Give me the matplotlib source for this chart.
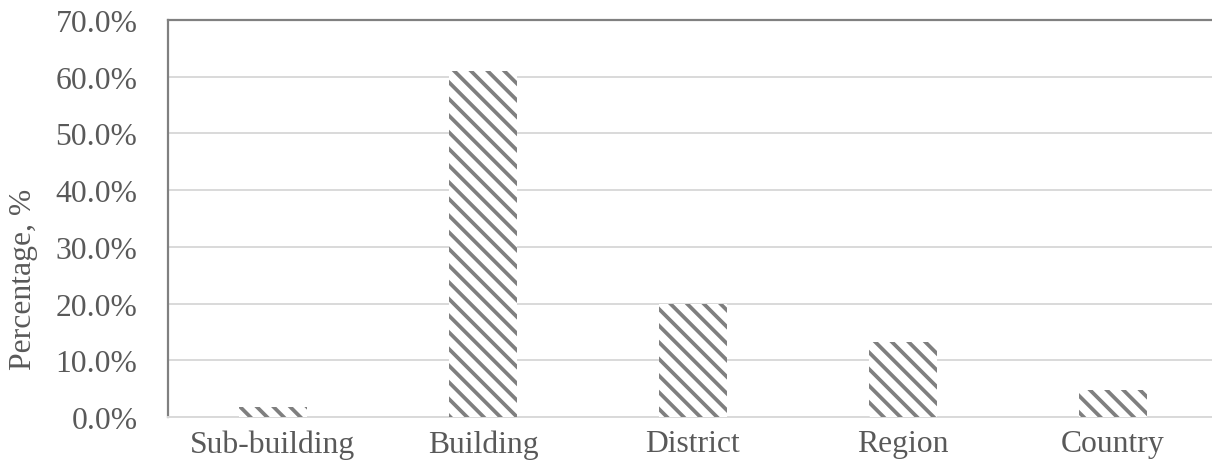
import numpy as np
import matplotlib.pyplot as plt
from matplotlib.ticker import FuncFormatter

categories = ["Sub-building", "Building", "District", "Region", "Country"]
percentages = [1.8, 61.0, 20.0, 13.3, 4.8]
y_ticks = [0, 10, 20, 30, 40, 50, 60, 70]

plt.rcParams['font.family'] = ['Liberation Serif', 'DejaVu Serif']
plt.rcParams['hatch.linewidth'] = 2.7

fig = plt.figure(figsize=(12.12, 4.77), dpi=100)
# axes run slightly past the right edge of the figure, as in the source image
ax = fig.add_axes([168 / 1212, 1 - 418 / 477, (1218 - 168) / 1212, (418 - 21) / 477])

x = np.arange(len(categories))
ax.bar(x, percentages, width=0.32, color='white', edgecolor='#7f7f7f',
       linewidth=0, hatch='\\\\', zorder=3)

ax.set_xlim(-0.5, len(categories) - 0.5)
ax.set_ylim(0, 70)
ax.set_yticks(y_ticks)
ax.yaxis.set_major_formatter(FuncFormatter(lambda v, _: f"{v:.1f}%"))
ax.set_xticks(x)
ax.set_xticklabels(categories)

ax.grid(axis='y', color='#d9d9d9', linewidth=1.4, zorder=0)
ax.tick_params(axis='both', length=0, labelsize=22.8, colors='#595959')
ax.tick_params(axis='y', pad=22)
ax.tick_params(axis='x', pad=9)

for side in ['left', 'top', 'right']:
    ax.spines[side].set_color('#808080')
    ax.spines[side].set_linewidth(1.6)
ax.spines['bottom'].set_color('#d9d9d9')
ax.spines['bottom'].set_linewidth(1.4)

ax.set_ylabel("Percentage, %", fontsize=22.8, color='#595959')
ax.yaxis.set_label_coords(-0.124, 0.35)

fig.savefig("out.png", dpi=100)
